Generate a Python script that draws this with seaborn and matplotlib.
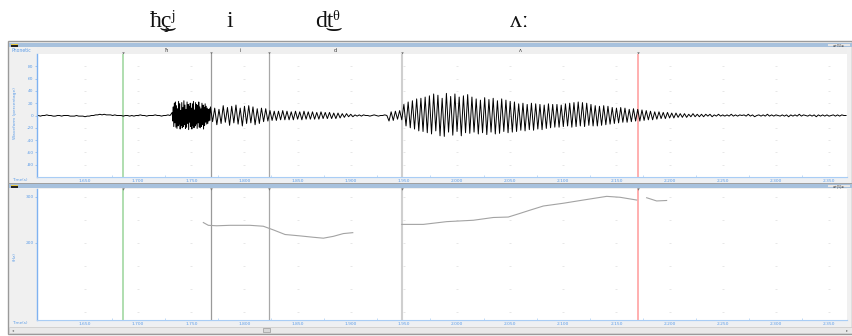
import numpy as np
import pandas as pd
import matplotlib
matplotlib.use("Agg")
import matplotlib.pyplot as plt
import matplotlib.transforms as mtransforms
from matplotlib.patches import Rectangle
import seaborn as sns

# ---------------- data ----------------
sil_start, sil_step = 1.604, 0.002        # silence before the fricative
fric_start, fric_step = 1.732, 0.0005     # fricative noise (denser samples)
voiced_start, voiced_step = 1.768, 0.002  # from the vowel [i] on

wave_silence = [0, 0, -1, 0, 0, 1, 0, 0, -1, -1, 0, 0, -1, 0, 0, 0, -1, -1, -1, 0, -1, -1, -1, -2, -1, -1, 0, 0, 1, 1,
                2, 1, 2, 1, 1, 1, 0, 1, 0, 0, 0, -1, 0, 0, -1, 0, -1, 0, 0, 1, 0, 0, -1, 0, 0, 0, 1, 0, 0, -1,
                0, 0, 1, 0]
wave_fric = [5, -9, 14, -18, 20, -12, 22, -19, 16, -21, 11, -17, 23, -14, 19, -22, 8, -16, 21, -20,
             13, -18, 24, -15, 17, -21, 10, -19, 22, -13, 18, -23, 15, -11, 20, -18,
             12, -22, 19, -16, 23, -20, 9, -17, 21, -14, 18, -21, 16, -12, 22, -19, 14, -20, 11, -18,
             20, -15, 17, -22, 13, -16, 19, -11, 15, -14, 12, -13, 10, -9, 11, -8]
wave_i = [14, -10, 12, -15, 10, -13, 16, -11, 13, -16, 15, -12, 17, -14, 12, -17, 15, -13, 16, -12,
          14, -15, 11, -13, 12, -10, 11, -9]
wave_decay = [8, -8, 7, -8, 7, -7, 8, -7, 7, -7, 6, -7, 7, -6, 6, -7, 7, -6, 6, -6,
              6, -6, 5, -6, 6, -5, 5, -5, 5, -5, 4, -5, 4, -4, 3, -3, 3, -2]
wave_closure = [2, -2, 1, -1, 1, -1, 1, 0, 0, -1, 0, 1, 0, -1, 0, 0, 1, 0]
wave_burst = [-9, 6, -8, 7, -6, 8, -7]
wave_a_onset = [18, -17, 22, -20, 24, -22, 27, -25, 28, -26, 30, -28, 32]
wave_a_peak = [-30, 35, -25, 33, -33, 28, -34, 36, -27, 31, -32, 35, -26, 30, -33, 32, -28, 34, -29, 30, -27]
wave_a_mid = [27, -30, 25, -28, 29, -31, 26, -27, 28, -30, 24, -29, 27, -26, 25, -28, 23, -27, 22]
wave_a_low = [-26, 19, -24, 20, -25, 18, -23, 20, -24, 19, -22, 18, -23, 17, -21, 19, -20, 18, -19]
wave_a_second = [18, -19, 17, -18, 19, -17, 20, -19, 21, -18, 22, -17, 21, -18, 20, -16, 18, -17, 16, -17,
                 15, -16, 16, -15, 15]
wave_a_end = [-14, 13, -13, 12, -12, 13, -11, 12, -11, 10, -10, 11, -9, 10, -9, 9]
wave_fade = [-8, 8, -7, 7, -7, 6, -6, 6, -5, 5, -5, 5, -4, 4, -4, 4, -3, 3]
wave_tail = [-3, 3, -3, 2, -2, 3, -2, 2, -2, 2, -2, 2, -1, 2, -2, 1, -1, 2, -1]
wave_rest = [1, -1, 1, -1, 2, -1, 1, -1, 1, 0, 1, -1, 2, -1, 1, -2, 0, 1, -1, 1, -1, 2, -1, 1, -1, 1, 0, -1, 1, -1,
             1, -2, 1, -1, 1, -1, 2, -1, 1, 0, -1, 1, -1, 1, -2, 1, -1, 1, -1, 1, -1, 0, 1, -1, 1, -1, 1, 0, 0]

pitch_t1 = [1.7613, 1.7660, 1.7739, 1.7864, 1.8052, 1.8177, 1.8272, 1.8382, 1.8523, 1.8648, 1.8742, 1.8836, 1.8930, 1.9019]
pitch_hz1 = [244, 238, 237, 238, 238, 236, 228, 218, 215, 212, 210, 214, 220, 222]
pitch_t2 = [1.9480, 1.9683, 1.9903, 2.0153, 2.0341, 2.0482, 2.0593, 2.0687, 2.0812, 2.1000, 2.1188, 2.1408, 2.1533, 2.1690]
pitch_hz2 = [240, 240, 246, 249, 255, 256, 264, 271, 280, 286, 293, 301, 299, 293]
pitch_t3 = [2.1784, 2.1878, 2.1972]
pitch_hz3 = [298, 291, 292]

cursor_t = [1.6858, 1.7685, 1.8231, 1.9482, 2.1703]
cursor_colors = ["#9ad49a", "#9a9a9a", "#a8a8a8", "#cfcfcf", "#ff9a9a"]
cursor_lw = [1.1, 0.9, 0.9, 1.5, 1.1]

seg_labels = ["ħ", "i", "d", "ʌ"]
seg_label_t = [1.7262, 1.7958, 1.8852, 2.0593]
header_labels = ["ħ͜çʲ", "i", "d͜tᶿ", "ʌː"]
header_t = [1.7234, 1.7864, 1.8780, 2.0583]

x_ticks = [1.65, 1.70, 1.75, 1.80, 1.85, 1.90, 1.95, 2.00, 2.05, 2.10, 2.15, 2.20, 2.25, 2.30, 2.35]
wave_ticks = [80, 60, 40, 20, 0, -20, -40, -60, -80]
pitch_ticks = [300, 200]
x_lim = (1.6048, 2.3669)

# ---------------- figure ----------------
W, H = 853, 336
fig = plt.figure(figsize=(W / 100, H / 100), dpi=100)
fig.patch.set_facecolor("white")

BLUE = "#5d9de8"
LBLUE = "#a9cdf5"


def rect(x0, y0, x1, y1):
    return [x0 / W, 1 - y1 / H, (x1 - x0) / W, (y1 - y0) / H]


bg = fig.add_axes([0, 0, 1, 1])
bg.set_xlim(0, W)
bg.set_ylim(H, 0)
bg.axis("off")


def box(x0, y0, x1, y1, fc, ec="none", lw=0, z=0):
    bg.add_patch(Rectangle((x0, y0), x1 - x0, y1 - y0, facecolor=fc, edgecolor=ec, lw=lw, zorder=z))


# window frame
box(8, 41, 852, 334, "#f0f0f0", "#9a9a9a", 1.0)
for (ty, ay0, ay1, sy) in [(43, 47, 183, 177), (184, 188, 326, 320)]:
    box(9, ty, 852, ty + 4, "#a7c1dd", z=1)          # title bar
    box(11, ty + 0.5, 18, ty + 3.5, "#e8c840", z=2)   # icon
    box(11, ty + 2, 18, ty + 3.5, "#222222", z=2)
    box(828, ty + 0.8, 850, ty + 3.2, "#e6e6e6", z=2)
    bg.text(839, ty + 2.1, "≡+[5]≡", fontsize=2.2, color="#333333", ha="center", va="center", zorder=3)
    box(37, sy, 847, sy + 6, "#eef0f3", z=1)          # x strip
    bg.plot([37, 847], [sy + 0.3, sy + 0.3], color=LBLUE, lw=0.8, zorder=2)
    bg.text(12, sy + 3.2, "Time(s)", fontsize=3.0, color=BLUE, va="center", zorder=3)
box(8, 183, 852, 184.3, "#a0a0a0", z=1)
# scroll bar
box(9, 326.5, 852, 333, "#e9e9e9", "#c8c8c8", 0.5, z=1)
box(263, 327.5, 270, 332, "#d8d8d8", "#9a9a9a", 0.5, z=2)
bg.text(12, 329.8, "◂", fontsize=3, color="#777777", va="center", zorder=3)
bg.text(848, 329.8, "▸", fontsize=3, color="#777777", va="center", ha="right", zorder=3)
bg.text(12, 50.5, "Phonetic", fontsize=3.3, color=BLUE, va="center", zorder=3)
bg.text(15, 113, "Waveform (percentage)", fontsize=3.2, color=BLUE, rotation=90,
        ha="center", va="center", zorder=3)
bg.text(15, 257, "(Hz)", fontsize=3.2, color=BLUE, rotation=90, ha="center", va="center", zorder=3)

# phonetic row
axp = fig.add_axes(rect(37, 47, 847, 54))
axp.set_facecolor("#efefef")
axp.set_xlim(*x_lim)
axp.set_ylim(0, 1)
axp.set_xticks([])
axp.set_yticks([])
for s in axp.spines.values():
    s.set_visible(False)
for lab, t in zip(seg_labels, seg_label_t):
    axp.text(t, 0.55, lab, fontsize=3.6, color="#333333", ha="center", va="center")
for t in cursor_t:
    axp.plot([t], [0.12], marker="v", ms=1.8, color="#777777", mew=0)

# header IPA
hdr_tr = mtransforms.blended_transform_factory(axp.transData, fig.transFigure)
for lab, t in zip(header_labels, header_t):
    fig.text(t, 1 - 27 / H, lab, transform=hdr_tr, fontsize=17, ha="center", va="baseline",
             family=["Liberation Serif", "DejaVu Serif", "DejaVu Sans"], color="#111111")


def style_axes(ax):
    ax.set_facecolor("white")
    ax.set_xlim(*x_lim)
    for k in ["top", "right"]:
        ax.spines[k].set_visible(False)
    ax.spines["left"].set_color("#7fb2f0")
    ax.spines["left"].set_linewidth(1.0)
    ax.spines["bottom"].set_color(LBLUE)
    ax.spines["bottom"].set_linewidth(0.8)
    ax.set_xticks(x_ticks)
    ax.set_xticklabels([f"{v:.3f}" for v in x_ticks])
    ax.set_xticks([v + 0.025 for v in x_ticks[:-1]], minor=True)
    ax.tick_params(axis="x", which="both", direction="in", length=1.2, width=0.5, colors=LBLUE,
                   labelcolor=BLUE, labelsize=3.2, pad=1.2)
    ax.tick_params(axis="x", which="major", length=0)
    ax.tick_params(axis="y", direction="out", length=1.5, width=0.5, colors="#7fb2f0",
                   labelcolor=BLUE, labelsize=3.2, pad=1)
    ax.set_xlabel("")
    ax.set_ylabel("")


# waveform panel
ax1 = fig.add_axes(rect(37, 54, 847, 177))
voiced = (wave_i + wave_decay + wave_closure + wave_burst + wave_a_onset + wave_a_peak + wave_a_mid +
          wave_a_low + wave_a_second + wave_a_end + wave_fade + wave_tail + wave_rest)
t_all = np.concatenate([
    sil_start + sil_step * np.arange(len(wave_silence)),
    fric_start + fric_step * np.arange(len(wave_fric)),
    voiced_start + voiced_step * np.arange(len(voiced)),
])
df_w = pd.DataFrame({"t": t_all, "amp": wave_silence + wave_fric + voiced})
sns.lineplot(data=df_w, x="t", y="amp", ax=ax1, color="black", lw=0.7, estimator=None, sort=False)
ax1.set_ylim(-100, 100)
ax1.set_yticks(wave_ticks)
ax1.set_yticklabels([str(v) for v in wave_ticks])
style_axes(ax1)

# pitch panel
ax2 = fig.add_axes(rect(37, 189, 847, 320))
df_p = pd.DataFrame({
    "t": pitch_t1 + pitch_t2 + pitch_t3,
    "hz": pitch_hz1 + pitch_hz2 + pitch_hz3,
    "seg": [1] * len(pitch_t1) + [2] * len(pitch_t2) + [3] * len(pitch_t3),
})
sns.lineplot(data=df_p, x="t", y="hz", units="seg", estimator=None, ax=ax2, color="#a3a3a3", lw=0.8)
ax2.set_ylim(32, 317)
ax2.set_yticks(pitch_ticks)
ax2.set_yticklabels([str(v) for v in pitch_ticks])
style_axes(ax2)

# faint grid dots & cursors
for ax, yt in [(ax1, wave_ticks), (ax2, [300, 250, 200, 150, 100, 50])]:
    gx, gy = np.meshgrid(x_ticks, yt)
    ax.plot(gx.ravel(), gy.ravel(), ls="none", marker="_", ms=1.2, mew=0.4, color="#d5d5d5", zorder=0)
    for t, c, lw in zip(cursor_t, cursor_colors, cursor_lw):
        ax.axvline(t, color=c, lw=lw, zorder=1)
    ax.set_zorder(2)
for t in cursor_t:
    ax2.plot([t], [316], marker="v", ms=1.8, color="#777777", mew=0, clip_on=False, zorder=5)

fig.savefig("out.png", dpi=100)
